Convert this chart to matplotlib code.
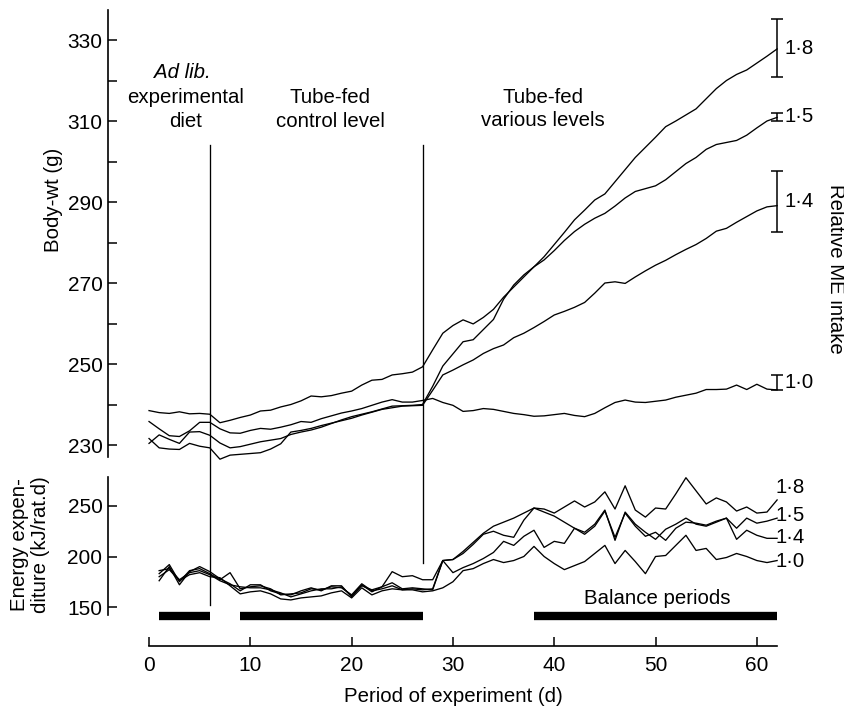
import matplotlib
matplotlib.use("Agg")
import matplotlib.pyplot as plt

plt.rcParams["font.family"] = ["Liberation Sans", "DejaVu Sans"]

# ── data ───────────────────────────────────────────────
days_wt = list(range(0, 63))
days_en = list(range(1, 63))
levels = ["1·8", "1·5", "1·4", "1·0"]

# body weight (g), day 0..62
wt_18 = [230.4, 232.5, 231.4, 230.4, 233.2, 233.3, 232.4, 230.5, 229.3, 229.6,
         230.2, 230.8, 231.2, 231.6, 232.6, 233.2, 233.7, 234.4, 235.3, 236.2,
         237.0, 237.6, 238.2, 238.9, 239.6, 239.7, 239.8, 240.0, 244.5, 249.5,
         252.5, 255.5, 256.0, 258.5, 261.0, 266.0, 269.5, 272.0, 274.0, 276.5,
         279.5, 282.5, 285.6, 288.0, 290.5, 292.0, 295.0, 298.0, 301.0, 303.5,
         306.0, 308.6, 310.0, 311.5, 313.0, 315.5, 318.0, 320.0, 321.5, 322.6,
         324.3, 326.0, 327.8]
wt_15 = [238.5, 238.0, 237.8, 238.2, 237.7, 237.8, 237.6, 235.5, 236.1, 236.8,
         237.4, 238.4, 238.6, 239.4, 240.0, 240.9, 242.1, 241.9, 242.2, 242.8,
         243.3, 244.8, 246.0, 246.2, 247.3, 247.6, 248.0, 249.3, 253.5, 257.6,
         259.5, 260.9, 259.9, 261.5, 263.5, 266.5, 269.0, 271.5, 274.0, 275.7,
         278.0, 280.5, 282.7, 284.5, 286.0, 287.2, 289.0, 291.0, 292.6, 293.3,
         294.0, 295.5, 297.5, 299.5, 301.0, 303.0, 304.2, 304.7, 305.2, 306.5,
         308.3, 310.0, 310.9]
wt_14 = [231.6, 229.3, 229.0, 228.9, 230.4, 229.7, 229.3, 226.5, 227.5, 227.7,
         227.9, 228.1, 229.0, 230.3, 233.2, 233.6, 234.1, 234.8, 235.4, 236.0,
         236.6, 237.4, 238.1, 238.8, 239.2, 239.6, 239.7, 239.8, 243.5, 247.3,
         248.5, 249.8, 251.0, 252.6, 253.8, 254.7, 256.5, 257.6, 259.0, 260.5,
         262.1, 263.0, 264.0, 265.2, 267.5, 270.0, 270.3, 269.9, 271.5, 273.0,
         274.4, 275.6, 277.0, 278.3, 279.5, 281.0, 282.8, 283.5, 285.0, 286.4,
         287.8, 288.8, 289.1]
wt_10 = [235.8, 234.0, 232.3, 232.1, 233.5, 235.6, 235.6, 234.0, 233.0, 232.9,
         233.6, 234.1, 233.9, 234.4, 235.0, 235.8, 235.6, 236.5, 237.2, 237.9,
         238.4, 239.0, 239.8, 240.6, 241.2, 240.6, 240.6, 241.0, 241.5, 240.5,
         239.8, 238.3, 238.5, 239.0, 238.8, 238.3, 237.8, 237.5, 237.1, 237.2,
         237.5, 237.8, 237.3, 237.0, 237.8, 239.2, 240.5, 241.1, 240.6, 240.5,
         240.8, 241.1, 241.8, 242.3, 242.8, 243.7, 243.7, 243.8, 244.8, 243.7,
         245.0, 243.8, 243.6]

# error bars at the end of the weight curves
err_day = 62
err_mid = [328.0, 311.0, 290.2, 245.5]
err_half = [7.2, 1.0, 7.5, 1.8]

# energy expenditure (kJ/rat.d), day 1..62
en_18 = [176, 190, 172, 185, 190, 185, 178, 173, 166, 172, 172, 166, 163, 162,
         166, 169, 166, 171, 171, 160, 172, 165, 170, 174, 168, 169, 168, 167,
         196, 197, 205, 214, 223, 230, 234, 238, 243, 248, 247, 243, 249, 255,
         249, 254, 264, 247, 270, 246, 239, 248, 247, 262, 278, 265, 252, 258,
         254, 245, 249, 243, 244, 256]
en_15 = [183, 192, 175, 186, 188, 183, 177, 184, 168, 170, 171, 168, 162, 163,
         164, 168, 167, 170, 169, 162, 173, 166, 168, 171, 167, 168, 167, 168,
         196, 197, 203, 212, 222, 225, 221, 219, 236, 248, 244, 240, 234, 228,
         224, 232, 246, 216, 244, 232, 224, 217, 227, 232, 238, 232, 230, 234,
         238, 228, 238, 233, 235, 238]
en_14 = [186, 188, 177, 184, 186, 182, 176, 172, 170, 169, 169, 167, 164, 160,
         163, 166, 168, 168, 170, 161, 171, 167, 170, 185, 180, 181, 177, 177,
         196, 184, 189, 193, 198, 204, 215, 211, 220, 226, 209, 215, 213, 228,
         222, 230, 245, 219, 243, 230, 220, 224, 216, 228, 234, 233, 231, 235,
         238, 217, 226, 221, 218, 218]
en_10 = [180, 187, 176, 182, 184, 180, 179, 171, 163, 165, 166, 163, 158, 157,
         159, 160, 161, 164, 166, 159, 169, 162, 166, 168, 167, 167, 165, 166,
         169, 175, 186, 188, 193, 197, 194, 196, 200, 210, 200, 193, 187, 191,
         195, 203, 211, 193, 206, 195, 183, 200, 201, 211, 221, 206, 208, 197,
         199, 203, 200, 196, 194, 196]
en_label_y = [268, 241, 219, 195]

# balance periods (start, end day)
periods = [(1, 6), (9, 27), (38, 62)]
phase_days = [6, 27]

# ── layout (pixel based) ──────────────────────────────
W, H = 845, 712
fig = plt.figure(figsize=(W / 100, H / 100), dpi=100)


def fx(px):
    return px / W


def fy(py):
    return 1 - py / H


LEFT, RIGHT = 108, 800
ax_w = fig.add_axes([fx(LEFT), fy(457), (RIGHT - LEFT) / W, (457 - 10) / H])
ax_e = fig.add_axes([fx(LEFT), fy(646), (RIGHT - LEFT) / W, (646 - 477) / H])
# transparent backgrounds so the phase lines can cross both panels
ax_w.patch.set_visible(False)
ax_e.patch.set_visible(False)

XLIM = (-4.05, 64.26)
FS = 14.7
TFS = 15
LW = 0.95

# ── top: body weight ─────────────────────────────────
for s in ["top", "right", "bottom"]:
    ax_w.spines[s].set_visible(False)
ax_w.spines["left"].set_linewidth(1.2)
ax_w.set_xlim(*XLIM)
ax_w.set_ylim(227.04, 337.41)
ax_w.set_xticks([])
ax_w.set_yticks(range(230, 331, 20))
ax_w.set_yticks(range(240, 321, 20), minor=True)
ax_w.tick_params(axis="y", which="both", direction="in", length=6.5,
                 width=1.1, labelsize=TFS, pad=4)

for ys in [wt_18, wt_15, wt_14, wt_10]:
    ax_w.plot(days_wt, ys, color="black", lw=LW, clip_on=False)

for m, h, lab in zip(err_mid, err_half, levels):
    ax_w.errorbar(err_day, m, yerr=h, color="black", lw=1.1, capsize=4,
                  capthick=1.1, clip_on=False)
    ax_w.text(err_day + 0.7, m, lab, fontsize=FS, ha="left", va="center")

# phase dividers, running down through the lower panel
ax_w.plot([phase_days[0]] * 2, [304.1, 190.5], color="black", lw=LW,
          clip_on=False)
ax_w.plot([phase_days[1]] * 2, [304.1, 200.9], color="black", lw=LW,
          clip_on=False)

ax_w.text(3.3, 322.1, "Ad lib.", style="italic", fontsize=FS, ha="center",
          va="center")
ax_w.text(3.6, 315.9, "experimental", fontsize=FS, ha="center", va="center")
ax_w.text(3.6, 309.8, "diet", fontsize=FS, ha="center", va="center")
ax_w.text(17.9, 315.9, "Tube-fed", fontsize=FS, ha="center", va="center")
ax_w.text(17.9, 309.8, "control level", fontsize=FS, ha="center", va="center")
ax_w.text(38.9, 315.9, "Tube-fed", fontsize=FS, ha="center", va="center")
ax_w.text(38.9, 310.1, "various levels", fontsize=FS, ha="center",
          va="center")

# ── bottom: energy expenditure ───────────────────────
for s in ["top", "right"]:
    ax_e.spines[s].set_visible(False)
ax_e.spines["left"].set_linewidth(1.2)
ax_e.spines["bottom"].set_linewidth(1.2)
ax_e.set_xlim(*XLIM)
ax_e.set_ylim(111.39, 278.71)
ax_e.spines["left"].set_bounds(142.1, 278.71)
ax_e.spines["bottom"].set_bounds(0, 62)
ax_e.set_yticks([150, 200, 250])
ax_e.set_xticks(range(0, 61, 10))
ax_e.tick_params(axis="both", direction="in", length=6.5, width=1.1,
                 labelsize=TFS)
ax_e.tick_params(axis="y", pad=4)
ax_e.tick_params(axis="x", pad=7)

for ys in [en_18, en_15, en_14, en_10]:
    ax_e.plot(days_en, ys, color="black", lw=LW, clip_on=False)

for yv, lab in zip(en_label_y, levels):
    ax_e.text(61.8, yv, lab, fontsize=FS, ha="left", va="center")

for a, b in periods:
    ax_e.hlines(141.1, a, b, color="black", lw=6, capstyle="butt")
ax_e.text(50.2, 158.9, "Balance periods", fontsize=FS, ha="center",
          va="center")

# ── axis titles ──────────────────────────────────────
fig.text(fx(54), fy(200), "Body-wt (g)", rotation=90, fontsize=FS,
         ha="center", va="center")
fig.text(fx(836), fy(269), "Relative ME intake", rotation=270, fontsize=FS,
         ha="center", va="center")
fig.text(fx(30), fy(545), "Energy expen-\nditure (kJ/rat.d)", rotation=90,
         fontsize=FS, ha="center", va="center", multialignment="center",
         linespacing=1.15)
fig.text(fx(453), fy(697), "Period of experiment (d)", fontsize=FS,
         ha="center", va="center")

fig.savefig("out.png", dpi=100)
